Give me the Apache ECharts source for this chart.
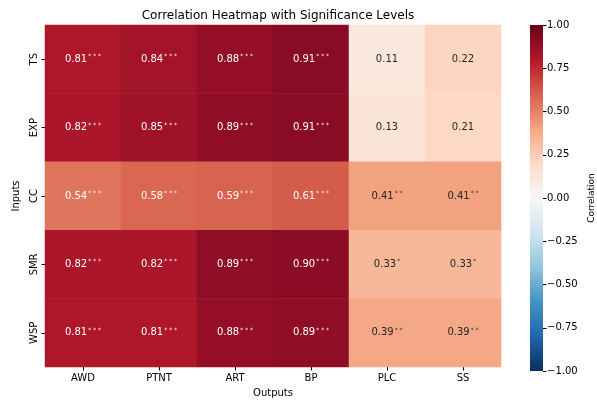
<!DOCTYPE html>
<html>
<head>
<meta charset="utf-8">
<script src="https://cdn.jsdelivr.net/npm/echarts@6/dist/echarts.min.js"></script>
<style>
  html, body { margin: 0; padding: 0; background: #fff; }
  #chart { width: 597px; height: 403px; }
</style>
</head>
<body>
<div id="chart"></div>
<script>
// Correlation of inputs (rows) with outputs (columns)
const outputs = ['AWD', 'PTNT', 'ART', 'BP', 'PLC', 'SS'];
const inputs = ['TS', 'EXP', 'CC', 'SMR', 'WSP'];

const rTS  = [0.81, 0.84, 0.88, 0.91, 0.11, 0.22];
const rEXP = [0.82, 0.85, 0.89, 0.91, 0.13, 0.21];
const rCC  = [0.54, 0.58, 0.59, 0.61, 0.41, 0.41];
const rSMR = [0.82, 0.82, 0.89, 0.90, 0.33, 0.33];
const rWSP = [0.81, 0.81, 0.88, 0.89, 0.39, 0.39];

// significance markers per cell
const sTS  = ['***', '***', '***', '***', '', ''];
const sEXP = ['***', '***', '***', '***', '', ''];
const sCC  = ['***', '***', '***', '***', '**', '**'];
const sSMR = ['***', '***', '***', '***', '*', '*'];
const sWSP = ['***', '***', '***', '***', '**', '**'];

const colorbarTicks = [-1, -0.75, -0.5, -0.25, 0, 0.25, 0.5, 0.75, 1];

const rows = [rTS, rEXP, rCC, rSMR, rWSP];
const stars = [sTS, sEXP, sCC, sSMR, sWSP];

// RdBu_r colour ramp, low to high
const rdbu_r = ['#053061', '#2166ac', '#4393c3', '#92c5de', '#d1e5f0', '#f7f7f7',
                '#fddbc7', '#f4a582', '#d6604d', '#b2182b', '#67001f'];

const FONT = 'DejaVu Sans';

const cells = [];
rows.forEach((row, yi) => {
  row.forEach((v, xi) => {
    cells.push({ value: [xi, yi, v], stars: stars[yi][xi] });
  });
});

const chart = echarts.init(document.getElementById('chart'), null, { renderer: 'canvas' });

const gradStops = rdbu_r.map((c, i) => ({ offset: 1 - i / (rdbu_r.length - 1), color: c }));

chart.setOption({
  animation: false,
  backgroundColor: '#ffffff',
  textStyle: { fontFamily: FONT },
  title: {
    text: 'Correlation Heatmap with Significance Levels',
    left: 273, top: 5, textAlign: 'center',
    textStyle: { fontFamily: FONT, fontSize: 12, fontWeight: 'normal', color: '#000' }
  },
  grid: [
    { left: 45, right: 96, top: 25, bottom: 32 },
    {
      left: 530, width: 18, top: 25, bottom: 32, show: true, borderWidth: 0,
      backgroundColor: new echarts.graphic.LinearGradient(0, 0, 0, 1, gradStops)
    }
  ],
  xAxis: [
    {
      type: 'category', data: outputs, gridIndex: 0,
      name: 'Outputs', nameLocation: 'middle', nameGap: 21,
      nameTextStyle: { fontFamily: FONT, fontSize: 10, color: '#000' },
      axisLine: { show: false },
      axisTick: { show: true, alignWithLabel: true, length: 3.5, lineStyle: { color: '#000' } },
      axisLabel: { fontFamily: FONT, fontSize: 10, color: '#000', margin: 6 },
      splitLine: { show: false }
    },
    { type: 'category', data: [''], gridIndex: 1, show: false }
  ],
  yAxis: [
    {
      type: 'category', data: inputs, gridIndex: 0, inverse: true,
      name: 'Inputs', nameLocation: 'middle', nameGap: 22, nameRotate: 90,
      nameTextStyle: { fontFamily: FONT, fontSize: 10, color: '#000' },
      axisLine: { show: false },
      axisTick: { show: true, alignWithLabel: true, length: 3.5, lineStyle: { color: '#000' } },
      axisLabel: { fontFamily: FONT, fontSize: 10, color: '#000', rotate: 90, margin: 6 },
      splitLine: { show: false }
    },
    {
      type: 'value', gridIndex: 1, min: -1, max: 1, interval: 0.25, position: 'right',
      name: 'Correlation', nameLocation: 'middle', nameGap: 44, nameRotate: 90,
      nameTextStyle: { fontFamily: FONT, fontSize: 9, color: '#000' },
      axisLine: { show: false },
      axisTick: { show: true, length: 3.5, lineStyle: { color: '#000' } },
      axisLabel: {
        fontFamily: FONT, fontSize: 10, color: '#000', margin: 4,
        formatter: v => (v < 0 ? '\u2212' : '') + Math.abs(v).toFixed(2),
        customValues: colorbarTicks
      },
      splitLine: { show: false }
    }
  ],
  visualMap: {
    show: false, type: 'continuous', min: -1, max: 1, seriesIndex: 0,
    inRange: { color: rdbu_r }
  },
  series: [{
    type: 'heatmap',
    xAxisIndex: 0, yAxisIndex: 0,
    data: cells,
    itemStyle: { borderWidth: 0 },
    label: {
      show: true,
      formatter: p => {
        const v = p.value[2].toFixed(2);
        const s = p.data.stars;
        const key = p.value[2] >= 0.5 ? 'w' : 'd';
        return s ? `{${key}|${v}}{${key}s|${s.split('').join(' ')}}` : `{${key}|${v}}`;
      },
      rich: {
        w: { fontFamily: FONT, fontSize: 10, color: '#ffffff', lineHeight: 11, verticalAlign: 'middle' },
        d: { fontFamily: FONT, fontSize: 10, color: '#262626', lineHeight: 11, verticalAlign: 'middle' },
        ws: { fontFamily: FONT, fontSize: 6, color: '#ffffff', lineHeight: 7, verticalAlign: 'top', padding: [0, 0, 0, 1] },
        ds: { fontFamily: FONT, fontSize: 6, color: '#262626', lineHeight: 7, verticalAlign: 'top', padding: [0, 0, 0, 1] }
      }
    },
    emphasis: { disabled: true }
  }]
});
</script>
</body>
</html>
